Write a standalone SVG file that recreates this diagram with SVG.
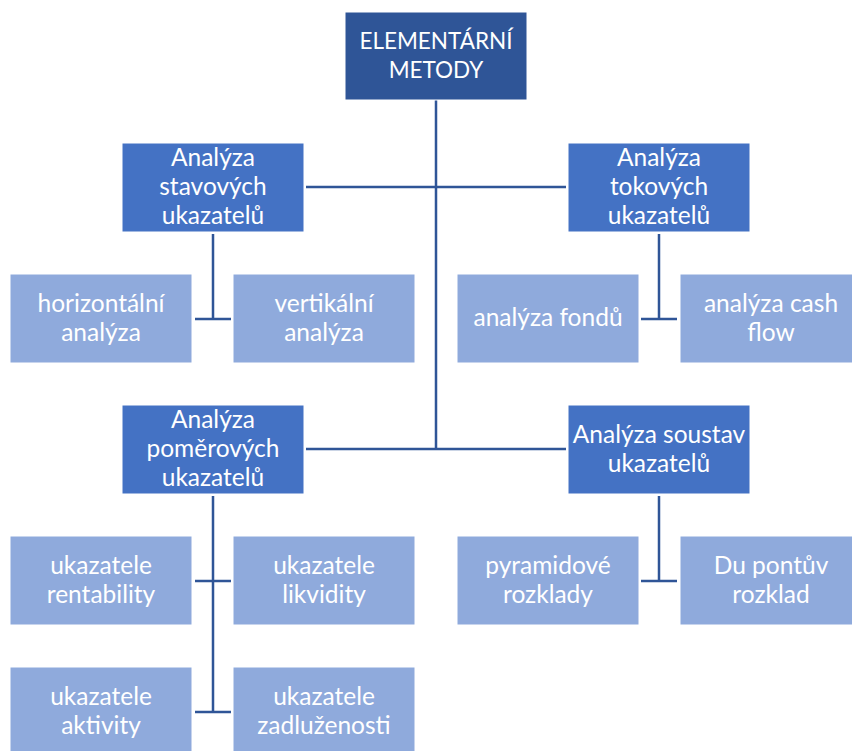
<svg xmlns="http://www.w3.org/2000/svg" width="852" height="751" viewBox="0 0 852 751">
<style>
rect{stroke:#ffffff;stroke-width:1}
.top{fill:#2F5597}
.mid{fill:#4472C4}
.leaf{fill:#8FAADC}
text{font-family:Lato,"Open Sans",sans-serif;font-size:24.5px;fill:#ffffff;text-anchor:middle}
text.t{font-size:22.5px}
#connectors path{stroke:#2F5597;stroke-width:2.5;fill:none}
</style>
<rect x="0" y="0" width="852" height="751" fill="#ffffff" stroke="none"/>
<g id="connectors">
<path d="M436 100 V449"/>
<path d="M306 187 H566"/>
<path d="M306 449 H566"/>
<path d="M213 234 V319 M195 319 H231"/>
<path d="M659 234 V319 M641 319 H677"/>
<path d="M213 496 V712 M195 581 H231 M195 712 H231"/>
<path d="M659 496 V581 M641 581 H677"/>
</g>
<g id="n-root"><rect class="top" x="345" y="12" width="182" height="88"/><text class="t" x="436" y="49">ELEMENTÁRNÍ</text><text class="t" x="436" y="78">METODY</text></g>
<g id="n-stav"><rect class="mid" x="122" y="143" width="182" height="89"/><text x="213" y="166">Analýza</text><text x="213" y="195">stavových</text><text x="213" y="224">ukazatelů</text></g>
<g id="n-tok"><rect class="mid" x="568" y="143" width="182" height="89"/><text x="659" y="166">Analýza</text><text x="659" y="195">tokových</text><text x="659" y="224">ukazatelů</text></g>
<g id="n-hor"><rect class="leaf" x="10" y="274" width="182" height="89"/><text x="101" y="312">horizontální</text><text x="101" y="341">analýza</text></g>
<g id="n-ver"><rect class="leaf" x="233" y="274" width="182" height="89"/><text x="324" y="312">vertikální</text><text x="324" y="341">analýza</text></g>
<g id="n-fond"><rect class="leaf" x="457" y="274" width="182" height="89"/><text x="548" y="326">analýza fondů</text></g>
<g id="n-cash"><rect class="leaf" x="680" y="274" width="182" height="89"/><text x="771" y="312">analýza cash</text><text x="771" y="341">flow</text></g>
<g id="n-pom"><rect class="mid" x="122" y="405" width="182" height="89"/><text x="213" y="428">Analýza</text><text x="213" y="457">poměrových</text><text x="213" y="486">ukazatelů</text></g>
<g id="n-sous"><rect class="mid" x="568" y="405" width="182" height="89"/><text x="659" y="443">Analýza soustav</text><text x="659" y="472">ukazatelů</text></g>
<g id="n-rent"><rect class="leaf" x="10" y="536" width="182" height="89"/><text x="101" y="574">ukazatele</text><text x="101" y="603">rentability</text></g>
<g id="n-likv"><rect class="leaf" x="233" y="536" width="182" height="89"/><text x="324" y="574">ukazatele</text><text x="324" y="603">likvidity</text></g>
<g id="n-pyr"><rect class="leaf" x="457" y="536" width="182" height="89"/><text x="548" y="574">pyramidové</text><text x="548" y="603">rozklady</text></g>
<g id="n-dupont"><rect class="leaf" x="680" y="536" width="182" height="89"/><text x="771" y="574">Du pontův</text><text x="771" y="603">rozklad</text></g>
<g id="n-akt"><rect class="leaf" x="10" y="667" width="182" height="89"/><text x="101" y="705">ukazatele</text><text x="101" y="734">aktivity</text></g>
<g id="n-zadl"><rect class="leaf" x="233" y="667" width="182" height="89"/><text x="324" y="705">ukazatele</text><text x="324" y="734">zadluženosti</text></g>
</svg>
